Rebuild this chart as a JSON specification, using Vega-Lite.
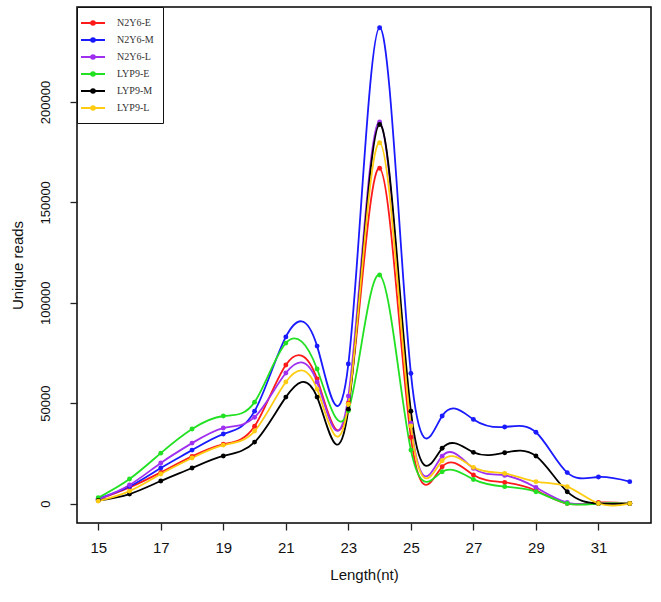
{
  "$schema": "https://vega.github.io/schema/vega-lite/v6.json",
  "width": 574,
  "height": 516,
  "autosize": {"type": "none"},
  "padding": {"left": 77, "top": 7, "right": 10, "bottom": 79},
  "background": "white",
  "config": {
    "view": {"stroke": "black", "strokeWidth": 1.5},
    "axis": {"labelFont": "Liberation Sans", "titleFont": "Liberation Sans", "labelColor": "#111", "titleColor": "#111", "tickColor": "#222", "tickWidth": 1.3, "tickSize": 7, "domain": false, "grid": false}
  },
  "data": {"values": [
    {"s": "N2Y6-E", "x": 15, "y": 2000}, {"s": "N2Y6-E", "x": 16, "y": 8000}, {"s": "N2Y6-E", "x": 17, "y": 15500}, {"s": "N2Y6-E", "x": 18, "y": 23500}, {"s": "N2Y6-E", "x": 19, "y": 29500}, {"s": "N2Y6-E", "x": 20, "y": 38500}, {"s": "N2Y6-E", "x": 21, "y": 69000}, {"s": "N2Y6-E", "x": 22, "y": 62000}, {"s": "N2Y6-E", "x": 23, "y": 50000}, {"s": "N2Y6-E", "x": 24, "y": 167000}, {"s": "N2Y6-E", "x": 25, "y": 33000}, {"s": "N2Y6-E", "x": 26, "y": 18300}, {"s": "N2Y6-E", "x": 27, "y": 14200}, {"s": "N2Y6-E", "x": 28, "y": 10500}, {"s": "N2Y6-E", "x": 29, "y": 6500}, {"s": "N2Y6-E", "x": 30, "y": 0}, {"s": "N2Y6-E", "x": 31, "y": 500}, {"s": "N2Y6-E", "x": 32, "y": 0},
    {"s": "N2Y6-M", "x": 15, "y": 2500}, {"s": "N2Y6-M", "x": 16, "y": 8500}, {"s": "N2Y6-M", "x": 17, "y": 17700}, {"s": "N2Y6-M", "x": 18, "y": 26600}, {"s": "N2Y6-M", "x": 19, "y": 34600}, {"s": "N2Y6-M", "x": 20, "y": 46000}, {"s": "N2Y6-M", "x": 21, "y": 83000}, {"s": "N2Y6-M", "x": 22, "y": 78400}, {"s": "N2Y6-M", "x": 23, "y": 69500}, {"s": "N2Y6-M", "x": 24, "y": 237000}, {"s": "N2Y6-M", "x": 25, "y": 64800}, {"s": "N2Y6-M", "x": 26, "y": 43600}, {"s": "N2Y6-M", "x": 27, "y": 41900}, {"s": "N2Y6-M", "x": 28, "y": 38100}, {"s": "N2Y6-M", "x": 29, "y": 35500}, {"s": "N2Y6-M", "x": 30, "y": 15400}, {"s": "N2Y6-M", "x": 31, "y": 13200}, {"s": "N2Y6-M", "x": 32, "y": 10900},
    {"s": "N2Y6-L", "x": 15, "y": 2000}, {"s": "N2Y6-L", "x": 16, "y": 9200}, {"s": "N2Y6-L", "x": 17, "y": 20200}, {"s": "N2Y6-L", "x": 18, "y": 30100}, {"s": "N2Y6-L", "x": 19, "y": 37600}, {"s": "N2Y6-L", "x": 20, "y": 43000}, {"s": "N2Y6-L", "x": 21, "y": 65000}, {"s": "N2Y6-L", "x": 22, "y": 60500}, {"s": "N2Y6-L", "x": 23, "y": 53500}, {"s": "N2Y6-L", "x": 24, "y": 190000}, {"s": "N2Y6-L", "x": 25, "y": 40000}, {"s": "N2Y6-L", "x": 26, "y": 23600}, {"s": "N2Y6-L", "x": 27, "y": 17500}, {"s": "N2Y6-L", "x": 28, "y": 14000}, {"s": "N2Y6-L", "x": 29, "y": 8000}, {"s": "N2Y6-L", "x": 30, "y": 500}, {"s": "N2Y6-L", "x": 31, "y": 0}, {"s": "N2Y6-L", "x": 32, "y": 0},
    {"s": "LYP9-E", "x": 15, "y": 2900}, {"s": "LYP9-E", "x": 16, "y": 12200}, {"s": "LYP9-E", "x": 17, "y": 25100}, {"s": "LYP9-E", "x": 18, "y": 37100}, {"s": "LYP9-E", "x": 19, "y": 43600}, {"s": "LYP9-E", "x": 20, "y": 50500}, {"s": "LYP9-E", "x": 21, "y": 79900}, {"s": "LYP9-E", "x": 22, "y": 67000}, {"s": "LYP9-E", "x": 23, "y": 46200}, {"s": "LYP9-E", "x": 24, "y": 113800}, {"s": "LYP9-E", "x": 25, "y": 26600}, {"s": "LYP9-E", "x": 26, "y": 15800}, {"s": "LYP9-E", "x": 27, "y": 12000}, {"s": "LYP9-E", "x": 28, "y": 8400}, {"s": "LYP9-E", "x": 29, "y": 5900}, {"s": "LYP9-E", "x": 30, "y": 0}, {"s": "LYP9-E", "x": 31, "y": 0}, {"s": "LYP9-E", "x": 32, "y": 0},
    {"s": "LYP9-M", "x": 15, "y": 1500}, {"s": "LYP9-M", "x": 16, "y": 4700}, {"s": "LYP9-M", "x": 17, "y": 11200}, {"s": "LYP9-M", "x": 18, "y": 17700}, {"s": "LYP9-M", "x": 19, "y": 23700}, {"s": "LYP9-M", "x": 20, "y": 30600}, {"s": "LYP9-M", "x": 21, "y": 53000}, {"s": "LYP9-M", "x": 22, "y": 53000}, {"s": "LYP9-M", "x": 23, "y": 47000}, {"s": "LYP9-M", "x": 24, "y": 188800}, {"s": "LYP9-M", "x": 25, "y": 46000}, {"s": "LYP9-M", "x": 26, "y": 27500}, {"s": "LYP9-M", "x": 27, "y": 25500}, {"s": "LYP9-M", "x": 28, "y": 25300}, {"s": "LYP9-M", "x": 29, "y": 23700}, {"s": "LYP9-M", "x": 30, "y": 5900}, {"s": "LYP9-M", "x": 31, "y": 0}, {"s": "LYP9-M", "x": 32, "y": 0},
    {"s": "LYP9-L", "x": 15, "y": 1200}, {"s": "LYP9-L", "x": 16, "y": 6200}, {"s": "LYP9-L", "x": 17, "y": 14700}, {"s": "LYP9-L", "x": 18, "y": 22700}, {"s": "LYP9-L", "x": 19, "y": 29100}, {"s": "LYP9-L", "x": 20, "y": 36100}, {"s": "LYP9-L", "x": 21, "y": 60500}, {"s": "LYP9-L", "x": 22, "y": 57000}, {"s": "LYP9-L", "x": 23, "y": 49500}, {"s": "LYP9-L", "x": 24, "y": 179700}, {"s": "LYP9-L", "x": 25, "y": 38600}, {"s": "LYP9-L", "x": 26, "y": 21300}, {"s": "LYP9-L", "x": 27, "y": 18000}, {"s": "LYP9-L", "x": 28, "y": 15000}, {"s": "LYP9-L", "x": 29, "y": 10900}, {"s": "LYP9-L", "x": 30, "y": 8400}, {"s": "LYP9-L", "x": 31, "y": 0}, {"s": "LYP9-L", "x": 32, "y": 0}
  ]},
  "encoding": {
    "x": {"field": "x", "type": "quantitative",
      "scale": {"domain": [14.32, 32.68], "nice": false, "zero": false},
      "axis": {"values": [15, 17, 19, 21, 23, 25, 27, 29, 31], "title": "Length(nt)", "labelFontSize": 15, "labelPadding": 10, "titleFontSize": 15, "titleFontWeight": "normal", "titlePadding": 12}},
    "y": {"field": "y", "type": "quantitative",
      "scale": {"domain": [-9700, 247300], "nice": false, "zero": false},
      "axis": {"values": [0, 50000, 100000, 150000, 200000], "format": "d", "title": "Unique reads", "labelAngle": -90, "labelAlign": "center", "labelBaseline": "bottom", "labelFontSize": 13, "labelPadding": 18, "titleFontSize": 15, "titleFontWeight": "normal", "titlePadding": 14}},
    "color": {"field": "s", "type": "nominal",
      "scale": {"domain": ["N2Y6-E", "N2Y6-M", "N2Y6-L", "LYP9-E", "LYP9-M", "LYP9-L"], "range": ["#ff1a1a", "#1a1aff", "#a030f0", "#22e022", "#000000", "#ffcc11"]},
      "legend": {"title": null, "orient": "top-left", "offset": 0, "strokeColor": "#111", "padding": 9, "labelFont": "Liberation Serif", "labelFontSize": 10, "labelColor": "#333", "labelOffset": 17, "rowPadding": 4, "symbolSize": 144, "symbolStrokeWidth": 2, "symbolType": "M-2,0H2M0.3,0A0.3,0.3 0 1,1 -0.3,0A0.3,0.3 0 1,1 0.3,0", "fillColor": "white"}}
  },
  "layer": [
    {"mark": {"type": "line", "interpolate": "natural", "strokeWidth": 1.8}},
    {"mark": {"type": "point", "filled": true, "size": 24, "opacity": 1}}
  ]
}
